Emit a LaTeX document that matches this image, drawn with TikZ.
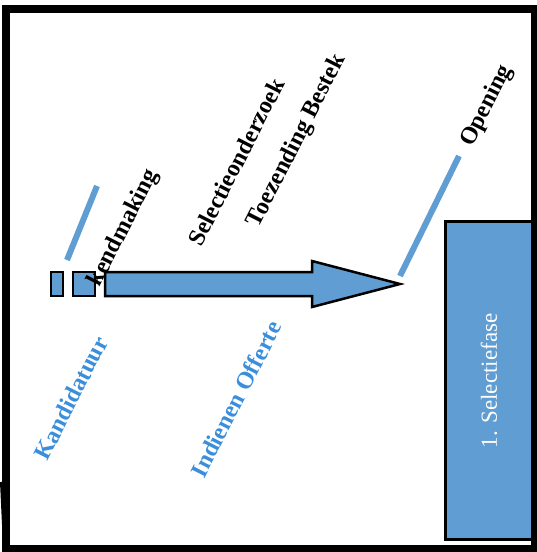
\documentclass[tikz,border=0pt]{standalone}
\usepackage{fontspec}
\setmainfont{Liberation Serif}
\definecolor{boxblue}{HTML}{5F9DD2}
\definecolor{lblblue}{HTML}{3A8EDB}
\begin{document}
\begin{tikzpicture}[x=1pt,y=-1pt,
  phase/.style={draw=black,line width=2.5pt,fill=boxblue},
  tick/.style={draw=boxblue,line width=6pt},
  evt/.style={font=\fontsize{24}{26}\selectfont\bfseries,rotate=63,inner sep=0pt},
  sub/.style={evt,text=lblblue}]
\useasboundingbox (0,0) rectangle (537,552);
% Selectiefase box
\node[phase,minimum width=89pt,minimum height=318pt,inner sep=0pt,anchor=north west] (fase) at (444,220) {};
\node[rotate=90,text=white,font=\fontsize{23}{25}\selectfont] (fasetxt) at (489,381) {1. Selectiefase};
% outer frame
\draw[line width=8pt] (6,9) rectangle (535,549);
\draw[line width=2pt] (1,482) -- (4,546);
% small rectangles and arrow
\draw[phase] (51,272) rectangle (63,296);
\draw[phase] (73,272) rectangle (95,296);
\draw[phase] (105,272) -- (312,272) -- (312,261) -- (400,284) -- (312,307) -- (312,296) -- (105,296) -- cycle;
% blue ticks
\draw[tick] (67,260) -- (97,186);
\draw[tick] (400,276) -- (459,156);
% labels
\node[evt] (bek) at (124,228) {kendmaking};
\node[evt] (sel) at (236,162) {Selectieonderzoek};
\node[evt] (toe) at (297,141) {Toezending  Bestek};
\node[evt] (ope) at (487,106) {Opening};
\node[sub] (kan) at (71,398) {Kandidatuur};
\node[sub] (ind) at (236,399) {Indienen Offerte};
\end{tikzpicture}
\end{document}
